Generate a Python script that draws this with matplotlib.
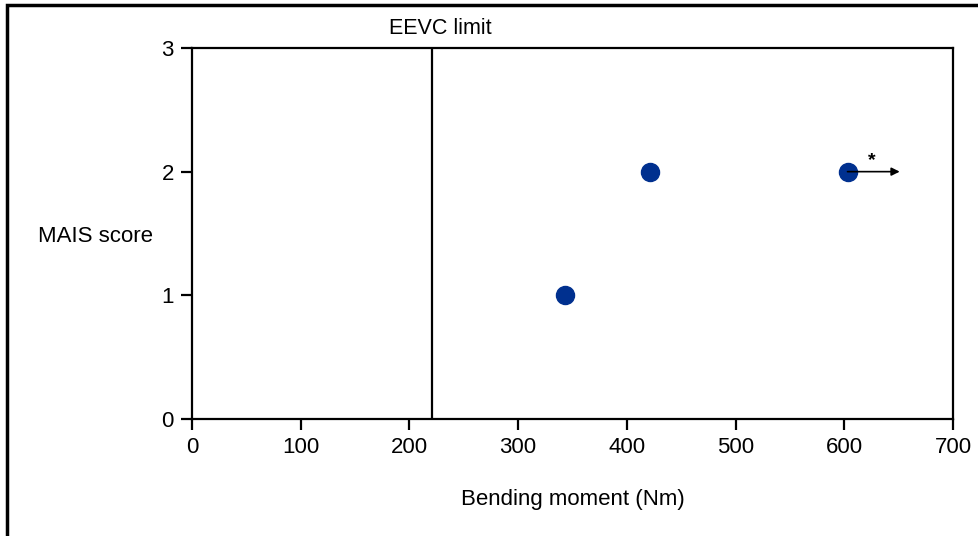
import matplotlib.pyplot as plt
from matplotlib.patches import Rectangle

plt.rcParams['font.family'] = ['Liberation Sans', 'DejaVu Sans']

# data
moment = [343, 421, 603]
mais = [1, 2, 2]
eevc_limit = 221
arrow_end = 651
x_ticks = [0, 100, 200, 300, 400, 500, 600, 700]
y_ticks = [0, 1, 2, 3]

fig = plt.figure(figsize=(9.79, 5.36), dpi=100)
ax = fig.add_axes([0.1961, 0.2183, 0.7773, 0.6922])

# outer frame (cut by the right and bottom edges)
fig.patches.append(Rectangle((7 / 979, -0.05), 1.1, 1 - 5 / 536 + 0.05,
                             transform=fig.transFigure, fill=False,
                             edgecolor='black', linewidth=2.5))

ax.plot(moment, mais, 'o', color='#00308f', markersize=13, zorder=3)
ax.axvline(eevc_limit, color='black', linewidth=1.6)
ax.text(eevc_limit + 7, 3.07, 'EEVC limit', ha='center', va='bottom', fontsize=15.5)

ax.annotate('', xy=(arrow_end, 2), xytext=(moment[2], 2),
            arrowprops=dict(arrowstyle='-|>', color='black', lw=1.2,
                            mutation_scale=12, shrinkA=0, shrinkB=0))
ax.text(625, 2.02, '*', ha='center', va='bottom', fontsize=14, fontweight='bold')

ax.set_xlim(0, 700)
ax.set_ylim(0, 3)
ax.set_xticks(x_ticks)
ax.set_yticks(y_ticks)
ax.tick_params(direction='out', length=8, width=1.6, labelsize=16, pad=5)
for s in ax.spines.values():
    s.set_linewidth(1.6)

ax.set_xlabel('Bending moment (Nm)', fontsize=16, labelpad=22)
fig.text(95 / 979, 1 - 236 / 536, 'MAIS score', ha='center', va='center', fontsize=16)

fig.savefig('out.png', dpi=100)
